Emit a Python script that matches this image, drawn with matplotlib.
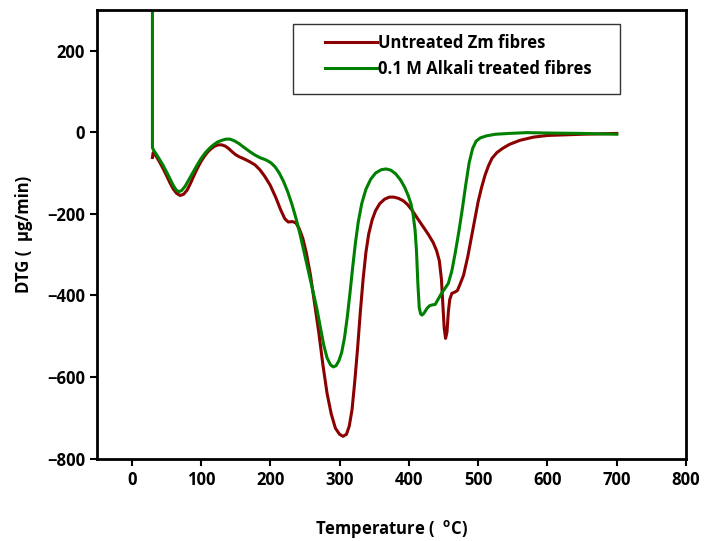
import matplotlib.pyplot as plt
from matplotlib.patches import Rectangle

plt.rcParams['font.family'] = ['Open Sans', 'DejaVu Sans']
plt.rcParams['font.weight'] = 'bold'
plt.rcParams['axes.labelweight'] = 'bold'

# untreated Zm fibres
temp_raw = [30, 31, 35, 40, 45, 50, 55, 60, 65, 70, 75, 80, 85, 90, 95, 100, 105, 110, 115, 120, 125,
            130, 135, 140, 145, 150, 155, 163, 170, 178, 185, 192, 200, 208, 215, 221, 226, 232, 237,
            242, 247, 252, 258, 264, 270, 276, 282, 288, 294, 300, 305, 310, 314, 318, 322, 326, 330,
            334, 338, 342, 347, 352, 358, 365, 372, 378, 385, 392, 398, 405, 412, 420, 428, 435, 440,
            444, 447, 449, 451, 453, 455, 457, 459, 462, 466, 470, 474, 479, 485, 490, 495, 500, 505,
            510, 515, 520, 527, 535, 545, 560, 580, 600, 650, 700]
dtg_raw = [-62, -50, -58, -72, -88, -105, -123, -139, -150, -155, -152, -142, -125, -106, -88, -72, -59,
           -48, -40, -34, -31, -31, -34, -40, -48, -55, -60, -66, -72, -80, -92, -108, -130, -160, -190,
           -212, -220, -219, -222, -237, -260, -295, -350, -420, -490, -570, -640, -690, -725, -740,
           -745, -740, -720, -680, -610, -530, -440, -360, -295, -250, -215, -192, -175, -164, -159,
           -159, -162, -168, -177, -192, -210, -230, -250, -270, -290, -315, -360, -420, -480, -505,
           -490, -440, -410, -395, -392, -388, -372, -350, -305, -260, -215, -170, -135, -105, -82,
           -64, -50, -40, -30, -20, -12, -8, -5, -3]

# 0.1 M alkali treated fibres
temp_alk = [30, 30, 32, 36, 40, 45, 50, 55, 60, 64, 68, 72, 77, 82, 88, 94, 100, 106, 112, 118, 124,
            130, 136, 142, 148, 155, 162, 170, 178, 186, 194, 201, 207, 213, 219, 225, 231, 237, 243,
            249, 255, 261, 267, 272, 277, 282, 287, 291, 295, 299, 303, 307, 311, 315, 319, 323, 327,
            332, 338, 345, 352, 360, 367, 374, 381, 388, 394, 399, 403, 406, 409, 411, 413, 415, 417,
            419, 422, 426, 430, 434, 438, 442, 447, 452, 457, 462, 467, 472, 477, 482, 487, 492, 497,
            503, 512, 525, 545, 570, 600, 650, 700]
dtg_alk = [320, -38, -45, -55, -66, -80, -96, -113, -130, -141, -146, -143, -133, -118, -100, -82, -65,
           -51, -40, -31, -24, -20, -17, -17, -21, -28, -37, -47, -56, -63, -68, -75, -85, -100, -120,
           -145, -175, -210, -250, -295, -340, -385, -430, -475, -520, -553, -570, -575, -572, -560,
           -540, -505, -455, -395, -330, -270, -220, -175, -140, -115, -100, -92, -90, -93, -102, -117,
           -135, -155, -175, -200, -240, -290, -370, -430, -445, -448, -443, -432, -425, -423, -422,
           -410, -395, -383, -370, -340, -295, -245, -190, -130, -75, -40, -22, -14, -9, -5, -3, -1,
           -2, -3, -5]

fig = plt.figure(figsize=(7.08, 5.41), dpi=100)
ax = fig.add_axes([0.137, 0.152, 0.832, 0.830])

ax.plot(temp_raw, dtg_raw, color='#8b0000', lw=2.2, label='Untreated Zm fibres')
ax.plot(temp_alk, dtg_alk, color='#008000', lw=2.2, label='0.1 M Alkali treated fibres')

ax.set_xlim(-50, 800)
ax.set_ylim(-800, 300)
ax.set_xticks(range(0, 801, 100))
ax.set_yticks(range(-800, 201, 200))
ax.tick_params(direction='out', length=5, width=1.5, labelsize=12)
for s in ax.spines.values():
    s.set_linewidth(2)

ax.set_xlabel('Temperature (  $^{\\mathregular{o}}$C)', fontsize=12, labelpad=21)
ax.set_ylabel('DTG (  µg/min)', fontsize=12, labelpad=10)

# legend box drawn by hand so the padding matches
ax.add_patch(Rectangle((0.333, 0.813), 0.555, 0.156, transform=ax.transAxes,
                       facecolor='white', edgecolor='#333333', lw=1, zorder=4))
leg = ax.legend(loc='upper left', bbox_to_anchor=(0.387, 0.947), frameon=False,
                fontsize=12, handlelength=3.1, borderpad=0, borderaxespad=0,
                labelspacing=0.5, handletextpad=0.1)
leg.set_zorder(5)
for t in leg.get_texts():
    t.set_fontweight('bold')

fig.savefig('out.png', dpi=100)
